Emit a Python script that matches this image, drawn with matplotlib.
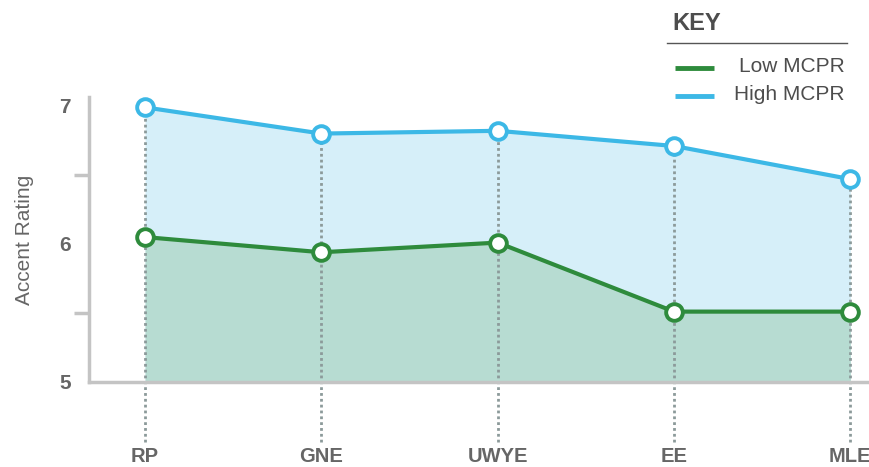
import numpy as np
import matplotlib
matplotlib.use("Agg")
import matplotlib.pyplot as plt
from matplotlib.lines import Line2D

plt.rcParams['font.family'] = ['Liberation Sans', 'DejaVu Sans']

categories = ['RP', 'GNE', 'UWYE', 'EE', 'MLE']
low_mcpr = [6.05, 5.94, 6.01, 5.51, 5.51]
high_mcpr = [6.99, 6.80, 6.82, 6.71, 6.47]
series_names = ['Low MCPR', 'High MCPR']
ytick_vals = [5, 6, 7]
yminor_vals = [5.5, 6.5]

green = '#2e8b3c'
blue = '#3cb8e6'
green_fill = '#b7dcd2'
blue_fill = '#d6eff9'
grey_txt = '#666666'
axis_grey = '#c4c4c4'

W, H = 870, 467
fig = plt.figure(figsize=(W / 100, H / 100), dpi=100)
ax = fig.add_axes([89 / W, (H - 382) / H, 779 / W, 285 / H])

x = np.arange(len(categories))

ax.fill_between(x, 5, high_mcpr, color=blue_fill, lw=0, zorder=1)
ax.fill_between(x, 5, low_mcpr, color=green_fill, lw=0, zorder=2)

# dotted guides from each point down past the axis
ax.vlines(x, 4.565, high_mcpr, colors='#8c9a9a', linestyles=(0, (1, 1.1)),
          lw=2, clip_on=False, zorder=3)

ax.plot(x, low_mcpr, color=green, lw=3, marker='o', ms=12, mfc='white',
        mec=green, mew=2.8, zorder=5, clip_on=False)
ax.plot(x, high_mcpr, color=blue, lw=3, marker='o', ms=12, mfc='white',
        mec=blue, mew=2.8, zorder=5, clip_on=False)

ax.set_xlim(-0.318, 4.1)
ax.set_ylim(5, 7.065)

for s in ['top', 'right']:
    ax.spines[s].set_visible(False)
for s in ['left', 'bottom']:
    ax.spines[s].set_color(axis_grey)
    ax.spines[s].set_linewidth(2.5)
    ax.spines[s].set_zorder(4)

ax.set_xticks(x)
ax.set_xticklabels(categories, fontsize=14.5, fontweight='bold', color=grey_txt)
ax.tick_params(axis='x', length=0, pad=47)

ax.set_yticks(ytick_vals)
ax.set_yticklabels([str(v) for v in ytick_vals], fontsize=15,
                   fontweight='bold', color=grey_txt)
ax.set_yticks(yminor_vals, minor=True)
ax.tick_params(axis='y', which='major', length=0, pad=13)
ax.tick_params(axis='y', which='minor', length=11, width=2.5, color=axis_grey)

ax.set_ylabel('Accent Rating', fontsize=15, color=grey_txt, labelpad=18)

# key
fig.text(672 / W, 1 - 23 / H, 'KEY', fontsize=17, fontweight='bold',
         color='#4d4d4d', va='center', ha='left')
fig.add_artist(Line2D([667 / W, 847 / W], [1 - 43 / H, 1 - 43 / H],
                      color='#555555', lw=1))
for name, col, yy in zip(series_names, [green, blue], [68, 96]):
    fig.add_artist(Line2D([675 / W, 714 / W], [1 - yy / H, 1 - yy / H],
                          color=col, lw=3.5, solid_capstyle='butt'))
    fig.text(845 / W, 1 - (yy - 1) / H, name, fontsize=15, color='#4d4d4d',
             va='center', ha='right')

fig.savefig('out.png', dpi=100)
